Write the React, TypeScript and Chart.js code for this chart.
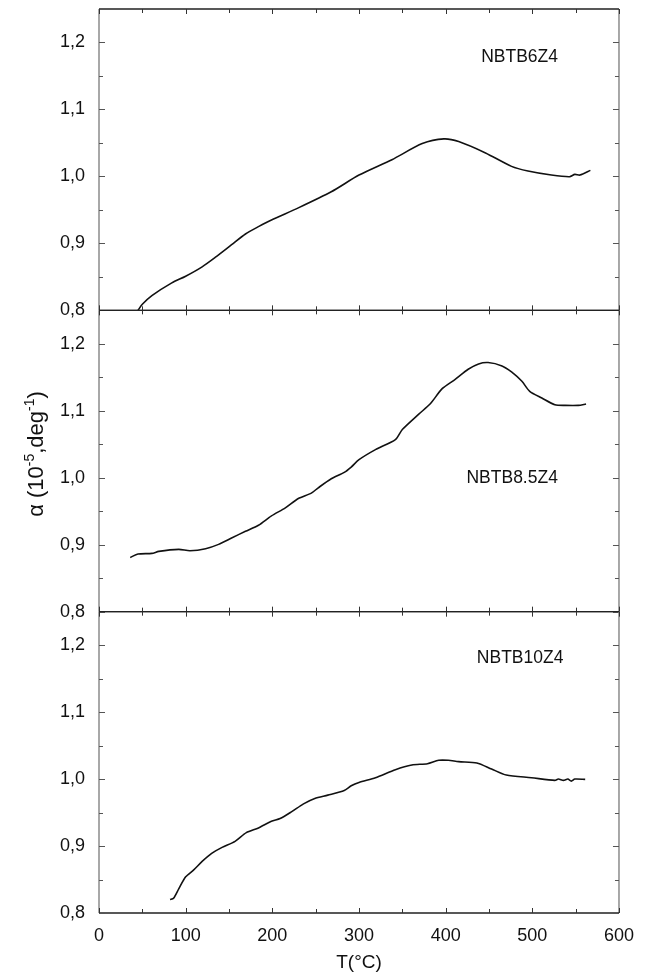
import React, { useEffect, useRef } from 'react';
import { Chart, registerables } from 'chart.js';

Chart.register(...registerables);

// ---- data ----
const tempNBTB6Z4 = [45, 50, 61, 84, 100, 119, 134, 153, 169, 184, 199, 230, 268, 300, 338, 373, 398, 415, 446, 476, 495, 522, 543, 549, 555, 567];
const alphaNBTB6Z4 = [0.800, 0.809, 0.822, 0.841, 0.851, 0.865, 0.879, 0.898, 0.914, 0.925, 0.935, 0.953, 0.977, 1.002, 1.025, 1.049, 1.056, 1.052, 1.035, 1.015, 1.008, 1.002, 0.9995, 1.003, 1.002, 1.009];

const tempNBTB85Z4 = [36, 45, 61, 69, 92, 105, 123, 138, 153, 169, 184, 199, 215, 230, 245, 253, 268, 283, 291, 300, 319, 342, 350, 369, 382, 396, 411, 426, 438, 449, 465, 476, 488, 497, 511, 526, 538, 553, 562];
const alphaNBTB85Z4 = [0.881, 0.886, 0.887, 0.890, 0.893, 0.891, 0.894, 0.9005, 0.910, 0.920, 0.929, 0.943, 0.955, 0.969, 0.977, 0.985, 0.9985, 1.008, 1.016, 1.027, 1.042, 1.057, 1.072, 1.095, 1.110, 1.133, 1.147, 1.162, 1.170, 1.172, 1.167, 1.158, 1.144, 1.129, 1.119, 1.109, 1.108, 1.108, 1.110];

const tempNBTB10Z4 = [82, 86, 92, 100, 109, 119, 130, 142, 157, 170, 184, 199, 209, 222, 236, 249, 264, 283, 291, 300, 319, 342, 361, 379, 392, 403, 415, 436, 453, 470, 499, 526, 530, 536, 541, 545, 549, 561];
const alphaNBTB10Z4 = [0.820, 0.822, 0.836, 0.854, 0.864, 0.877, 0.889, 0.898, 0.907, 0.920, 0.927, 0.937, 0.941, 0.951, 0.963, 0.971, 0.976, 0.983, 0.990, 0.995, 1.002, 1.014, 1.021, 1.023, 1.028, 1.028, 1.026, 1.024, 1.015, 1.006, 1.002, 0.998, 1.000, 0.998, 1.000, 0.997, 1.000, 0.9995];

const panelNames = ['NBTB6Z4', 'NBTB8.5Z4', 'NBTB10Z4'];
const yTickValues = [0.8, 0.9, 1.0, 1.1, 1.2];
const yTickLabels = ['0,8', '0,9', '1,0', '1,1', '1,2'];
const yMinorValues = [0.85, 0.95, 1.05, 1.15];
const xMinorValues = [50, 150, 250, 350, 450, 550];
const xTitle = 'T(°C)';

const FONT = '"Liberation Sans", Arial, sans-serif';

function makeYScale() {
  return {
    type: 'linear',
    axis: 'y',
    position: 'left',
    stack: 'panels',
    stackWeight: 1,
    min: 0.8,
    max: 1.25,
    grid: { display: false, drawTicks: false },
    border: { display: false },
    ticks: {
      font: { family: FONT, size: 18 },
      color: '#111',
      padding: 14,
      callback: (v: number) => {
        const i = yTickValues.indexOf(v);
        return i >= 0 ? yTickLabels[i] : '';
      },
    },
    afterBuildTicks: (s: any) => {
      s.ticks = yTickValues.map((v) => ({ value: v }));
    },
    afterFit: (s: any) => {
      s.width = 99;
      s.paddingTop = 0;
      s.paddingBottom = 0;
    },
  };
}

const framePlugin = {
  id: 'framePlugin',
  afterDraw(chart: any) {
    const ctx = chart.ctx;
    const ca = chart.chartArea;
    const xs = chart.scales.x;
    const ids = ['y1', 'y2', 'y3'];
    ctx.save();
    ids.forEach((id) => {
      const s = chart.scales[id];
      const top = s.top;
      const bottom = s.bottom;
      // left / right border (gray)
      ctx.strokeStyle = '#8c8c8c';
      ctx.lineWidth = 1.5;
      ctx.beginPath();
      ctx.moveTo(ca.left, top);
      ctx.lineTo(ca.left, bottom);
      ctx.moveTo(ca.right, top);
      ctx.lineTo(ca.right, bottom);
      ctx.stroke();
      // top / bottom border (dark)
      ctx.strokeStyle = '#222';
      ctx.lineWidth = 1.3;
      ctx.beginPath();
      ctx.moveTo(ca.left, top);
      ctx.lineTo(ca.right, top);
      ctx.moveTo(ca.left, bottom);
      ctx.lineTo(ca.right, bottom);
      ctx.stroke();
      // y ticks
      ctx.strokeStyle = '#555';
      ctx.lineWidth = 1;
      ctx.beginPath();
      yTickValues.forEach((v) => {
        const py = Math.round(s.getPixelForValue(v)) + 0.5;
        ctx.moveTo(ca.left, py);
        ctx.lineTo(ca.left + 6, py);
        ctx.moveTo(ca.right, py);
        ctx.lineTo(ca.right - 6, py);
      });
      yMinorValues.forEach((v) => {
        const py = Math.round(s.getPixelForValue(v)) + 0.5;
        ctx.moveTo(ca.left, py);
        ctx.lineTo(ca.left + 4, py);
        ctx.moveTo(ca.right, py);
        ctx.lineTo(ca.right - 4, py);
      });
      ctx.stroke();
      // x ticks top & bottom
      ctx.strokeStyle = '#333';
      ctx.beginPath();
      xs.ticks.forEach((t: any) => {
        const px = Math.round(xs.getPixelForValue(t.value)) + 0.5;
        ctx.moveTo(px, top);
        ctx.lineTo(px, top + 5);
        ctx.moveTo(px, bottom);
        ctx.lineTo(px, bottom - 5);
      });
      xMinorValues.forEach((v) => {
        const px = Math.round(xs.getPixelForValue(v)) + 0.5;
        ctx.moveTo(px, top);
        ctx.lineTo(px, top + 4);
        ctx.moveTo(px, bottom);
        ctx.lineTo(px, bottom - 4);
      });
      ctx.stroke();
    });

    // panel labels
    const labelAnchors = [
      { id: 'y1', x: 441, y: 1.178 },
      { id: 'y2', x: 424, y: 0.999 },
      { id: 'y3', x: 436, y: 1.181 },
    ];
    ctx.fillStyle = '#111';
    ctx.font = `17.5px ${FONT}`;
    ctx.textAlign = 'left';
    ctx.textBaseline = 'middle';
    labelAnchors.forEach((a, i) => {
      ctx.fillText(panelNames[i], xs.getPixelForValue(a.x), chart.scales[a.id].getPixelForValue(a.y));
    });

    // x title
    ctx.font = `19px ${FONT}`;
    ctx.textAlign = 'center';
    ctx.fillText(xTitle, (ca.left + ca.right) / 2, 963);

    // y title, rotated, with superscripts
    const parts = [
      { t: 'α (10', sup: false },
      { t: '-5', sup: true },
      { t: ',deg', sup: false },
      { t: '-1', sup: true },
      { t: ')', sup: false },
    ];
    const mainFont = `22px ${FONT}`;
    const supFont = `14px ${FONT}`;
    let total = 0;
    parts.forEach((p) => {
      ctx.font = p.sup ? supFont : mainFont;
      total += ctx.measureText(p.t).width;
    });
    ctx.translate(37, 454);
    ctx.rotate(-Math.PI / 2);
    ctx.textAlign = 'left';
    ctx.textBaseline = 'middle';
    let cx = -total / 2;
    parts.forEach((p) => {
      ctx.font = p.sup ? supFont : mainFont;
      ctx.fillText(p.t, cx, p.sup ? -7 : 0);
      cx += ctx.measureText(p.t).width;
    });
    ctx.restore();
  },
};

function toPoints(xs: number[], ys: number[]) {
  return xs.map((x, i) => ({ x, y: ys[i] }));
}

export default function App() {
  const ref = useRef<HTMLCanvasElement | null>(null);
  useEffect(() => {
    if (!ref.current) return;
    const lineStyle = {
      borderColor: '#111',
      borderWidth: 1.6,
      pointRadius: 0,
      tension: 0.25,
      fill: false,
    };
    const chart = new Chart(ref.current, {
      type: 'line',
      data: {
        datasets: [
          { ...lineStyle, label: panelNames[0], data: toPoints(tempNBTB6Z4, alphaNBTB6Z4), xAxisID: 'x', yAxisID: 'y1' },
          { ...lineStyle, label: panelNames[1], data: toPoints(tempNBTB85Z4, alphaNBTB85Z4), xAxisID: 'x', yAxisID: 'y2' },
          { ...lineStyle, label: panelNames[2], data: toPoints(tempNBTB10Z4, alphaNBTB10Z4), xAxisID: 'x', yAxisID: 'y3' },
        ],
      },
      options: {
        animation: false,
        responsive: false,
        maintainAspectRatio: false,
        layout: { padding: { top: 9, right: 25, left: 0, bottom: 0 } },
        plugins: { legend: { display: false }, tooltip: { enabled: false } },
        scales: {
          x: {
            type: 'linear',
            position: 'bottom',
            min: 0,
            max: 600,
            grid: { display: false, drawTicks: false },
            border: { display: false },
            ticks: {
              stepSize: 100,
              font: { family: FONT, size: 18 },
              color: '#111',
              padding: 12,
              maxRotation: 0,
            },
            afterFit: (s: any) => {
              s.height = 62;
            },
          },
          y3: makeYScale(),
          y2: makeYScale(),
          y1: makeYScale(),
        } as any,
      },
      plugins: [framePlugin],
    });
    return () => chart.destroy();
  }, []);

  return (
    <div style={{ position: 'absolute', left: 0, top: 0, width: 646, height: 975, background: '#fff' }}>
      <canvas ref={ref} width={646} height={975} style={{ width: 646, height: 975, display: 'block' }} />
    </div>
  );
}
